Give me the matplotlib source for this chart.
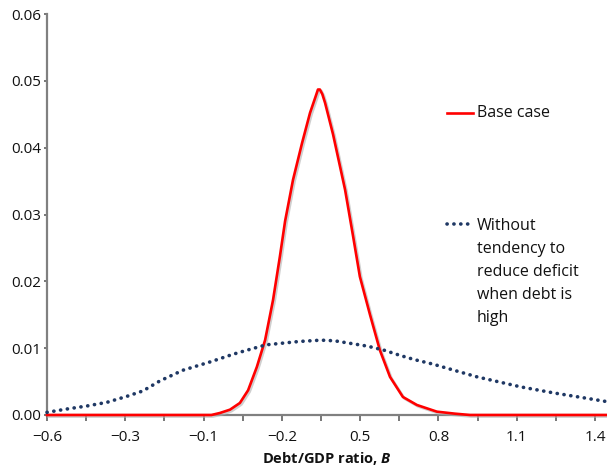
import matplotlib
matplotlib.use("Agg")
import matplotlib.pyplot as plt
import matplotlib.transforms as mtransforms
import numpy as np

plt.rcParams['font.family'] = ['Open Sans', 'DejaVu Sans']
plt.rcParams['mathtext.fontset'] = 'custom'
plt.rcParams['mathtext.bfit'] = 'Open Sans:bold:italic'

# Data
x_ticks = list(np.linspace(-0.6, 1.4, 15))
x_tick_labels = ["\u22120.6", "", "\u22120.3", "", "\u22120.1", "", "\u22120.2", "",
                 "0.5", "", "0.8", "", "1.1", "", "1.4"]
y_ticks = [0.00, 0.01, 0.02, 0.03, 0.04, 0.05, 0.06]
y_tick_labels = ["0.00", "0.01", "0.02", "0.03", "0.04", "0.05", "0.06"]

base_x = [-0.6, 0.0, 0.031, 0.068, 0.104, 0.134, 0.166, 0.196, 0.225, 0.250, 0.269,
          0.298, 0.331, 0.360, 0.380, 0.389, 0.396, 0.405, 0.415, 0.444, 0.488, 0.517,
          0.542, 0.579, 0.615, 0.652, 0.699, 0.750, 0.823, 0.889, 0.944, 1.444]
base_y = [0.0, 0.0, 0.0003, 0.0008, 0.0018, 0.0037, 0.0072, 0.0112, 0.0172, 0.0237, 0.0290,
          0.0352, 0.0407, 0.0452, 0.0476, 0.0487, 0.0487, 0.0480, 0.0467, 0.0420, 0.0337,
          0.0268, 0.0207, 0.0150, 0.0097, 0.0057, 0.0027, 0.0015, 0.0005, 0.0002, 0.0, 0.0]

alt_x = [-0.6, -0.527, -0.454, -0.381, -0.308, -0.25, -0.188, -0.104, 0.0, 0.08, 0.13,
         0.2, 0.32, 0.4, 0.45, 0.57, 0.63, 0.69, 0.74, 0.81, 0.86, 0.97, 1.13, 1.25,
         1.37, 1.444]
alt_y = [0.0004, 0.0009, 0.00135, 0.0019, 0.0028, 0.0036, 0.0051, 0.0067, 0.0080, 0.0091,
         0.0097, 0.0105, 0.0110, 0.0112, 0.0111, 0.0103, 0.0097, 0.0089, 0.0083, 0.0076,
         0.0070, 0.0057, 0.0042, 0.0033, 0.0025, 0.0020]

label_base = "Base case"
label_alt = "Without\ntendency to\nreduce deficit\nwhen debt is\nhigh"

fig = plt.figure(figsize=(6.07, 4.70), dpi=100)
ax = fig.add_axes([47 / 607, 1 - 415 / 470, 560 / 607, 401 / 470])

dot_style = dict(color='#1f3864', lw=2.6, linestyle=(0, (0.05, 1.85)),
                 dash_capstyle='round')

# shadow under red line
shadow = mtransforms.offset_copy(ax.transData, fig=fig, x=1.5, y=-1.5, units='dots')
ax.plot(base_x, base_y, color='#b0b0b0', lw=2.0, alpha=0.6, transform=shadow,
        zorder=2.8, clip_on=False)
ax.plot(base_x, base_y, color='#ff0000', lw=1.9, zorder=3, clip_on=False,
        solid_joinstyle='round')
ax.plot(alt_x, alt_y, zorder=3, clip_on=False, **dot_style)

ax.set_xlim(-0.6, 1.444)
ax.set_ylim(0, 0.06)
ax.set_xticks(x_ticks)
ax.set_xticklabels(x_tick_labels)
ax.set_yticks(y_ticks)
ax.set_yticklabels(y_tick_labels)

for s in ['top', 'right']:
    ax.spines[s].set_visible(False)
for s in ['left', 'bottom']:
    ax.spines[s].set_color('#808080')
    ax.spines[s].set_linewidth(1.6)

ax.tick_params(axis='x', direction='out', length=4.5, width=1.2, color='#606060',
               pad=6, labelsize=11, labelcolor='#111111')
ax.tick_params(axis='y', direction='out', length=2.5, width=1.2, color='#606060',
               pad=1.5, labelsize=11, labelcolor='#111111')

ax.set_xlabel("Debt/GDP ratio, $\\boldsymbol{B}$", fontsize=10.5, fontweight='bold',
              labelpad=4, color='#111111')

# legend-like annotations
ax.plot([0.714, 0.761], [0.753, 0.753], transform=ax.transAxes, color='#ff0000',
        lw=1.9, clip_on=False)
ax.text(0.767, 0.753, label_base, transform=ax.transAxes, fontsize=11.5,
        va='center', ha='left', color='#111111')
ax.plot([0.714, 0.761], [0.476, 0.476], transform=ax.transAxes, clip_on=False,
        **dot_style)
ax.text(0.767, 0.491, label_alt, transform=ax.transAxes, fontsize=11.5,
        va='top', ha='left', linespacing=1.58, color='#111111')

fig.savefig("out.png", dpi=100)
